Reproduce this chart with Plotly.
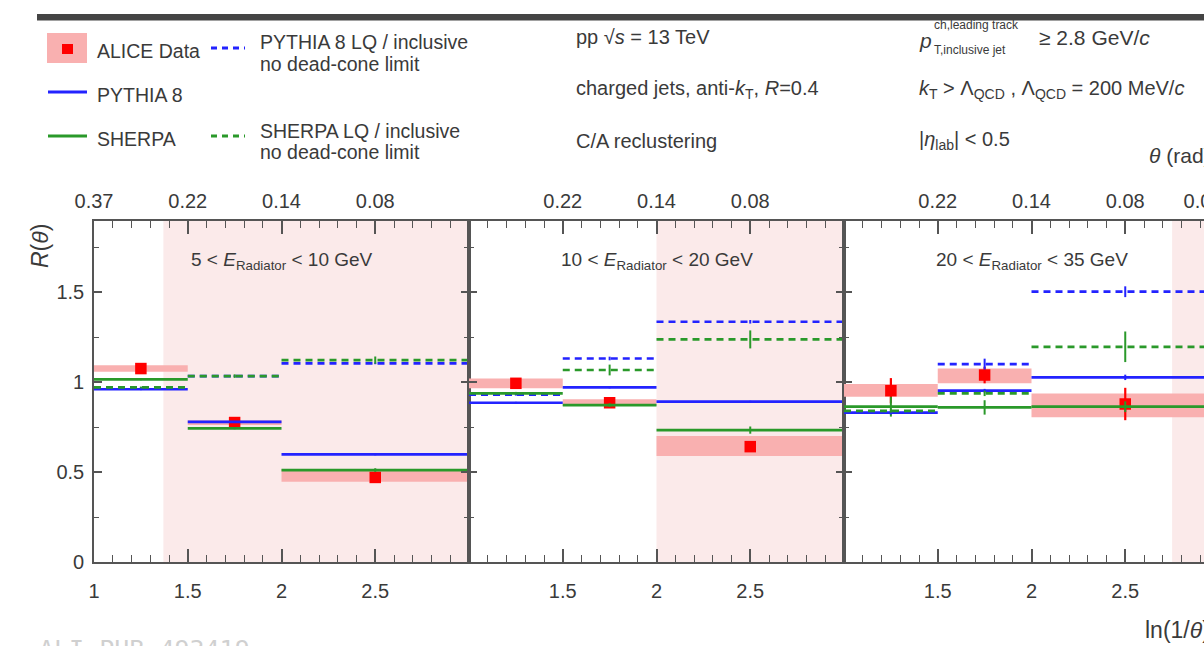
import plotly.graph_objects as go

W, H = 1204, 646

# ---------------- data ----------------
bin_lo = [1.0, 1.5, 2.0]
bin_hi = [1.5, 2.0, 3.0]
bin_center = [1.25, 1.75, 2.5]

panel_labels = [
    "5 < <i>E</i><sub>Radiator</sub> < 10 GeV",
    "10 < <i>E</i><sub>Radiator</sub> < 20 GeV",
    "20 < <i>E</i><sub>Radiator</sub> < 35 GeV",
]
shade_start = [1.37, 2.0, 2.75]

alice_val = [[1.075, 0.775, 0.470], [0.993, 0.885, 0.641], [0.952, 1.039, 0.878]]
alice_sys_lo = [[1.057, 0.762, 0.446], [0.965, 0.867, 0.589], [0.918, 0.993, 0.804]]
alice_sys_hi = [[1.094, 0.788, 0.517], [1.020, 0.904, 0.700], [0.989, 1.076, 0.937]]
alice_stat = [[0.010, 0.010, 0.020], [0.010, 0.012, 0.020], [0.070, 0.046, 0.090]]

pythia = [[0.960, 0.779, 0.598], [0.885, 0.970, 0.891], [0.830, 0.952, 1.026]]
pythia_err = [[0.005, 0.005, 0.005], [0.005, 0.005, 0.005], [0.010, 0.010, 0.015]]
sherpa = [[1.015, 0.743, 0.511], [0.937, 0.872, 0.733], [0.863, 0.859, 0.863]]
sherpa_err = [[0.005, 0.005, 0.010], [0.008, 0.010, 0.020], [0.055, 0.040, 0.030]]
pythia_lq = [[0.965, 1.033, 1.104], [0.930, 1.131, 1.335], [0.830, 1.100, 1.502]]
pythia_lq_err = [[0.005, 0.005, 0.005], [0.005, 0.010, 0.010], [0.010, 0.030, 0.030]]
sherpa_lq = [[0.970, 1.033, 1.122], [0.937, 1.067, 1.237], [0.840, 0.937, 1.196]]
sherpa_lq_err = [[0.005, 0.010, 0.020], [0.008, 0.030, 0.050], [0.010, 0.015, 0.085]]

x_tickvals = [[1, 1.5, 2, 2.5], [1.5, 2, 2.5], [1.5, 2, 2.5]]
x_ticktext = [["1", "1.5", "2", "2.5"], ["1.5", "2", "2.5"], ["1.5", "2", "2.5"]]
theta_tickvals = [[1, 1.5, 2, 2.5], [1.5, 2, 2.5], [1.5, 2, 2.5, 2.915]]
theta_ticktext = [["0.37", "0.22", "0.14", "0.08"], ["0.22", "0.14", "0.08"],
                  ["0.22", "0.14", "0.08", "0.05"]]
y_tickvals = [0, 0.5, 1, 1.5]
y_ticktext = ["0", "0.5", "1", "1.5"]

# ---------------- style ----------------
FONT = "Liberation Sans, Arial, sans-serif"
TXT = "#3a3a3a"
AX = "#555555"
BLUE = "#2323ff"
GREEN = "#2a992a"
RED = "#ff0000"
SYS = "#f9b0b0"
SHADE = "#fbeaea"
DASH = "7px,5px"

def px2x(px):
    return px / W

def px2y(py):
    return 1 - py / H

x_px = [(94, 469), (469, 844), (844, 1204)]
y_dom = [px2y(562), px2y(221)]
x_ranges = [[1, 3], [1, 3], [1, 1 + (1204 - 844) / 187.5]]
y_range = [0, 1.895]

fig = go.Figure()

def sfx(i):
    return "" if i == 0 else str(i + 1)

# systematic boxes first (drawn below)
for p in range(3):
    fig.add_trace(go.Bar(
        x=bin_center,
        y=[h - l for h, l in zip(alice_sys_hi[p], alice_sys_lo[p])],
        base=alice_sys_lo[p],
        width=[h - l for h, l in zip(bin_hi, bin_lo)],
        marker=dict(color=SYS, line=dict(width=0)),
        xaxis="x" + sfx(p), yaxis="y" + sfx(p), showlegend=False, hoverinfo="skip",
    ))

# ALICE points
for p in range(3):
    fig.add_trace(go.Scatter(
        x=bin_center, y=alice_val[p], mode="markers",
        marker=dict(symbol="square", size=11.5, color=RED),
        error_y=dict(type="data", array=alice_stat[p], color=RED, thickness=2.2, width=0),
        xaxis="x" + sfx(p), yaxis="y" + sfx(p), showlegend=False,
    ))

def steps(vals):
    xs, ys = [], []
    for lo, hi, v in zip(bin_lo, bin_hi, vals):
        xs += [lo, hi, None]
        ys += [v, v, None]
    return xs, ys

models = [
    (pythia, pythia_err, BLUE, "solid"),
    (sherpa, sherpa_err, GREEN, "solid"),
    (pythia_lq, pythia_lq_err, BLUE, DASH),
    (sherpa_lq, sherpa_lq_err, GREEN, DASH),
]
for vals, errs, col, dash in models:
    for p in range(3):
        xs, ys = steps(vals[p])
        fig.add_trace(go.Scatter(
            x=xs, y=ys, mode="lines", line=dict(color=col, width=2.7, dash=dash),
            xaxis="x" + sfx(p), yaxis="y" + sfx(p), showlegend=False, hoverinfo="skip",
        ))
        fig.add_trace(go.Scatter(
            x=bin_center, y=vals[p], mode="markers", marker=dict(size=1, color=col),
            error_y=dict(type="data", array=errs[p], color=col, thickness=2, width=0),
            xaxis="x" + sfx(p), yaxis="y" + sfx(p), showlegend=False, hoverinfo="skip",
        ))

# invisible anchors so that the top (theta) axes are drawn
for p in range(3):
    fig.add_trace(go.Scatter(
        x=bin_center, y=alice_val[p], mode="markers", marker=dict(size=1, opacity=0),
        xaxis="x" + str(p + 4), yaxis="y" + sfx(p), showlegend=False, hoverinfo="skip",
    ))

tickfont = dict(family=FONT, size=20, color=TXT)
layout = dict(
    width=W, height=H, margin=dict(l=0, r=0, t=0, b=0, autoexpand=False),
    paper_bgcolor="white", plot_bgcolor="white", barmode="overlay",
    showlegend=False, font=dict(family=FONT, color=TXT),
)

shapes = []
annotations = []
for p in range(3):
    s = sfx(p)
    xa = dict(
        domain=[px2x(x_px[p][0]), px2x(x_px[p][1])], range=x_ranges[p], anchor="y" + s,
        showline=True, linecolor=AX, linewidth=1.6, mirror="ticks",
        ticks="inside", ticklen=13, tickwidth=1.5, tickcolor=AX,
        tickmode="array", tickvals=x_tickvals[p], ticktext=x_ticktext[p],
        minor=dict(ticks="inside", ticklen=7, tickwidth=1.3, tickcolor=AX,
                   tickmode="linear", tick0=0, dtick=0.1, showgrid=False),
        showgrid=False, zeroline=False, tickfont=tickfont, ticklabelstandoff=10,
    )
    ya = dict(
        domain=y_dom, range=y_range, anchor="x" + s,
        showline=True, linecolor=AX, linewidth=1.6, mirror=("ticks" if p < 2 else False),
        ticks="inside", ticklen=8, tickwidth=1.5, tickcolor=AX,
        tickmode="array", tickvals=y_tickvals, ticktext=y_ticktext,
        showticklabels=(p == 0),
        minor=dict(ticks="inside", ticklen=5, tickwidth=1.3, tickcolor=AX,
                   tickmode="linear", tick0=0, dtick=0.25, showgrid=False),
        showgrid=False, zeroline=False, tickfont=tickfont, ticklabelstandoff=4,
    )
    layout["xaxis" + s] = xa
    layout["yaxis" + s] = ya
    # top theta axis
    layout["xaxis" + str(p + 4)] = dict(
        overlaying="x" + s, side="top", anchor="y" + s, range=x_ranges[p],
        domain=[px2x(x_px[p][0]), px2x(x_px[p][1])],
        tickmode="array", tickvals=theta_tickvals[p], ticktext=theta_ticktext[p],
        ticks="", showline=False, showgrid=False, zeroline=False, showticklabels=True,
        ticklabeloverflow="allow",
        tickfont=tickfont, ticklabelstandoff=8,
    )
    shapes.append(dict(type="rect", xref="x" + s, yref="y" + s,
                       x0=shade_start[p], x1=x_ranges[p][1], y0=y_range[0], y1=y_range[1],
                       fillcolor=SHADE, line=dict(width=0), layer="below"))
    annotations.append(dict(xref="x" + s, yref="y" + s, x=2.0, y=1.675,
                            text=panel_labels[p], showarrow=False,
                            font=dict(family=FONT, size=19, color=TXT)))

# top dark bar
shapes.append(dict(type="rect", xref="paper", yref="paper", x0=px2x(37), x1=1.0,
                   y0=px2y(20.5), y1=px2y(14), fillcolor="#444444", line=dict(width=0)))

# legend drawing
shapes += [
    dict(type="rect", xref="paper", yref="paper", x0=px2x(47), x1=px2x(87),
         y0=px2y(63), y1=px2y(33), fillcolor=SYS, line=dict(width=0)),
    dict(type="rect", xref="paper", yref="paper", x0=px2x(62), x1=px2x(73),
         y0=px2y(54), y1=px2y(44), fillcolor=RED, line=dict(width=0)),
    dict(type="line", xref="paper", yref="paper", x0=px2x(48), x1=px2x(87),
         y0=px2y(92), y1=px2y(92), line=dict(color=BLUE, width=3)),
    dict(type="line", xref="paper", yref="paper", x0=px2x(48), x1=px2x(87),
         y0=px2y(136), y1=px2y(136), line=dict(color=GREEN, width=3)),
    dict(type="line", xref="paper", yref="paper", x0=px2x(211), x1=px2x(245),
         y0=px2y(48), y1=px2y(48), line=dict(color=BLUE, width=3, dash="6px,5px")),
    dict(type="line", xref="paper", yref="paper", x0=px2x(211), x1=px2x(245),
         y0=px2y(136), y1=px2y(136), line=dict(color=GREEN, width=3, dash="6px,5px")),
]

def txt(px, py, text, size=19.5, color=TXT, xanchor="left", family=FONT, angle=0):
    annotations.append(dict(xref="paper", yref="paper", x=px2x(px), y=px2y(py),
                            xanchor=xanchor, yanchor="middle", text=text, showarrow=False,
                            textangle=angle, font=dict(family=family, size=size, color=color)))

txt(95, 51, "ALICE Data")
txt(95, 95, "PYTHIA 8")
txt(95, 139, "SHERPA")
txt(258, 42, "PYTHIA 8 LQ / inclusive")
txt(258, 64, "no dead-cone limit")
txt(258, 131, "SHERPA LQ / inclusive")
txt(258, 152, "no dead-cone limit")

txt(574, 37, "pp √<i>s</i> = 13 TeV", size=20)
txt(574, 89, "charged jets, anti-<i>k</i><sub>T</sub>, <i>R</i>=0.4", size=20)
txt(574, 141, "C/A reclustering", size=20)
txt(917, 41, "<i>p</i>", size=21)
txt(932, 25, "ch,leading track", size=12)
txt(932, 50, "T,inclusive jet", size=12)
txt(1037, 37, "≥ 2.8 GeV/<i>c</i>", size=21)
txt(917, 89, "<i>k</i><sub>T</sub> > Λ<sub>QCD</sub> , Λ<sub>QCD</sub> = 200 MeV/<i>c</i>", size=20)
txt(917, 141, "|<i>η</i><sub>lab</sub>| < 0.5", size=20)
txt(1147, 155, "<i>θ</i> (rad)", size=21)

txt(40, 246, "<i>R</i>(<i>θ</i>)", size=23, xanchor="center", angle=-90)
txt(1143, 630, "ln(1/<i>θ</i>)", size=23)
txt(37, 649, "ALI-PUB-493419", size=25, color="#d0d0d0", family="DejaVu Sans Mono, monospace")

layout["shapes"] = shapes
layout["annotations"] = annotations
fig.update_layout(**layout)

fig.write_html("out.html")
